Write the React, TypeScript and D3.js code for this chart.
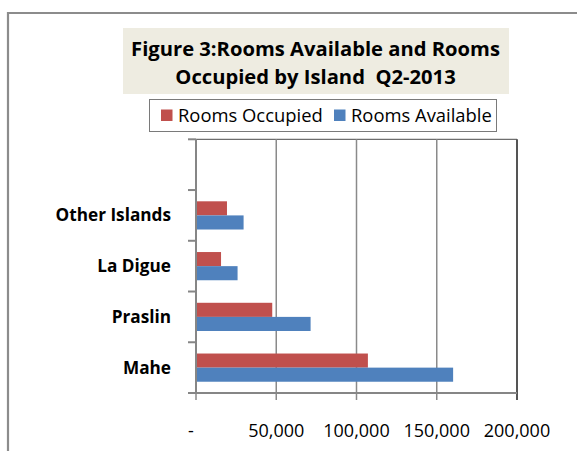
import React from 'react';
import * as d3 from 'd3';

// island categories, top to bottom (first one is an empty slot, as in the source)
const islands = ['', 'Other Islands', 'La Digue', 'Praslin', 'Mahe'];
const roomsOccupied = [null, 19300, 15600, 47500, 107100];
const roomsAvailable = [null, 29650, 25900, 71400, 160200];
const seriesNames = ['Rooms Occupied', 'Rooms Available'];
const seriesColors = ['#C0504D', '#4F81BD'];
const xTicks = [0, 50000, 100000, 150000, 200000];
const titleLines = ['Figure 3:Rooms Available and Rooms', 'Occupied by Island  Q2-2013'];

const FONT = "'Open Sans', 'DejaVu Sans', sans-serif";

const App = () => {
  const width = 577;
  const height = 451;
  const plot = { left: 196, right: 517, top: 139.3, bottom: 393 };

  const x = d3.scaleLinear().domain([0, 200000]).range([plot.left, plot.right]);
  const y = d3.scaleBand().domain(islands).range([plot.top, plot.bottom]).padding(0);
  const bw = y.bandwidth();
  const gap = bw * 0.222;
  const inner = d3.scaleBand().domain(seriesNames).range([gap, bw - gap]).padding(0);
  const fmt = d3.format(',');

  const series = [roomsOccupied, roomsAvailable];
  const boundaries = islands.map(d => y(d)).concat([plot.bottom]);

  return (
    <div style={{ position: 'fixed', left: 0, top: 0 }}>
      <svg width={width} height={height} style={{ display: 'block', background: '#fff' }}>
        {/* outer chart frame (cut off at right and bottom) */}
        <path d="M8,452 L8,13 L580,13" fill="none" stroke="#8c8c8c" strokeWidth={2.2} />

        {/* title */}
        <rect x={123} y={28} width={386} height={66} fill="#EEECE1" />
        {titleLines.map((t, i) => (
          <text key={i} x={315.5} y={55.5 + i * 28} textAnchor="middle"
            fontFamily={FONT} fontWeight="bold" fontSize={20.2} fill="#000"
            style={{ whiteSpace: 'pre' }}>{t}</text>
        ))}

        {/* legend */}
        <rect x={149.5} y={99.5} width={347} height={32} fill="#fff" stroke="#7a7a7a" strokeWidth={1} />
        {seriesNames.map((s, i) => {
          const lx = i === 0 ? 161 : 334;
          return (
            <g key={s}>
              <rect x={lx} y={109.5} width={11.5} height={11.5} fill={seriesColors[i]} />
              <text x={lx + 17} y={121.5} fontFamily={FONT} fontSize={18.4} fill="#000">{s}</text>
            </g>
          );
        })}

        {/* plot border top */}
        <line x1={plot.left} x2={plot.right} y1={plot.top} y2={plot.top} stroke="#6e6e6e" strokeWidth={1.2} />

        {/* vertical gridlines */}
        {xTicks.map(t => (
          <line key={t} x1={x(t)} x2={x(t)} y1={plot.top} y2={plot.bottom + 7}
            stroke={t === 200000 ? '#555' : '#8a8a8a'} strokeWidth={t === 200000 ? 2 : 1.5} />
        ))}

        {/* bars */}
        {islands.map((isl, i) => series.map((vals, j) => {
          const v = vals[i];
          if (v == null) return null;
          return (
            <rect key={isl + j} x={x(0)} y={(y(isl) as number) + (inner(seriesNames[j]) as number)}
              width={x(v) - x(0)} height={inner.bandwidth()} fill={seriesColors[j]} />
          );
        }))}

        {/* category axis */}
        <line x1={plot.left} x2={plot.left} y1={plot.top} y2={plot.bottom} stroke="#868686" strokeWidth={2} />
        {boundaries.map((b, i) => (
          <line key={i} x1={plot.left - 8} x2={plot.left} y1={b} y2={b} stroke="#868686" strokeWidth={2} />
        ))}
        {islands.map(isl => isl && (
          <text key={isl} x={171} y={(y(isl) as number) + bw / 2} dy="0.35em" textAnchor="end"
            fontFamily={FONT} fontWeight="bold" fontSize={17.2} fill="#000">{isl}</text>
        ))}

        {/* value axis */}
        <line x1={plot.left - 2} x2={plot.right} y1={plot.bottom} y2={plot.bottom} stroke="#868686" strokeWidth={2} />
        {xTicks.map(t => (
          <text key={t} x={t === 0 ? x(t) - 5 : x(t)} y={437} textAnchor="middle"
            fontFamily={FONT} fontSize={18} fill="#000">{t === 0 ? '-' : fmt(t)}</text>
        ))}
      </svg>
    </div>
  );
};

export default App;
